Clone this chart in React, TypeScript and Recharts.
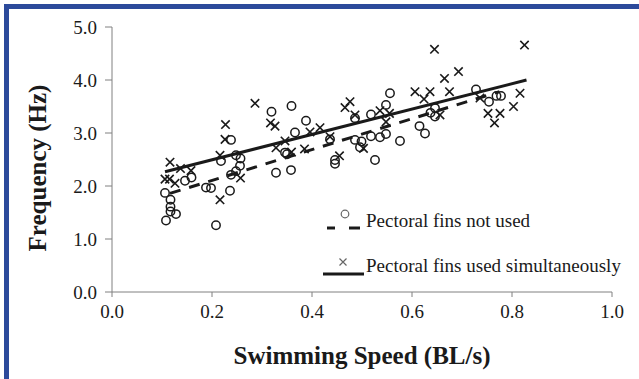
import React from "react";
import { ComposedChart, Scatter, Line, XAxis, YAxis, Label } from "recharts";

type Pt = { x: number; y: number };

// Pectoral fins not used (circles)
const notUsed: Pt[] = [
  { x: 0.108, y: 1.35 }, { x: 0.106, y: 1.87 }, { x: 0.117, y: 1.74 }, { x: 0.117, y: 1.61 },
  { x: 0.117, y: 1.52 }, { x: 0.128, y: 1.47 }, { x: 0.146, y: 2.1 }, { x: 0.159, y: 2.16 },
  { x: 0.188, y: 1.97 }, { x: 0.198, y: 1.96 }, { x: 0.208, y: 1.26 }, { x: 0.218, y: 2.47 },
  { x: 0.236, y: 1.91 }, { x: 0.238, y: 2.21 }, { x: 0.238, y: 2.87 }, { x: 0.248, y: 2.28 },
  { x: 0.248, y: 2.58 }, { x: 0.256, y: 2.38 }, { x: 0.257, y: 2.52 }, { x: 0.319, y: 3.4 },
  { x: 0.328, y: 2.25 }, { x: 0.346, y: 2.63 }, { x: 0.35, y: 2.6 }, { x: 0.358, y: 2.3 },
  { x: 0.359, y: 3.51 }, { x: 0.366, y: 3.01 }, { x: 0.388, y: 3.23 }, { x: 0.436, y: 2.88 },
  { x: 0.446, y: 2.49 }, { x: 0.446, y: 2.42 }, { x: 0.486, y: 3.28 }, { x: 0.486, y: 2.87 },
  { x: 0.496, y: 2.73 }, { x: 0.499, y: 2.84 }, { x: 0.518, y: 3.35 }, { x: 0.518, y: 2.94 },
  { x: 0.526, y: 2.49 }, { x: 0.536, y: 2.92 }, { x: 0.548, y: 3.53 }, { x: 0.548, y: 2.98 },
  { x: 0.556, y: 3.75 }, { x: 0.576, y: 2.85 }, { x: 0.615, y: 3.13 }, { x: 0.626, y: 2.99 },
  { x: 0.637, y: 3.38 }, { x: 0.646, y: 3.47 }, { x: 0.646, y: 3.31 }, { x: 0.728, y: 3.82 },
  { x: 0.754, y: 3.59 }, { x: 0.769, y: 3.7 }, { x: 0.778, y: 3.7 },
];

// Pectoral fins used simultaneously (crosses)
const usedSim: Pt[] = [
  { x: 0.106, y: 2.13 }, { x: 0.115, y: 2.13 }, { x: 0.116, y: 2.45 }, { x: 0.126, y: 2.05 },
  { x: 0.137, y: 2.33 }, { x: 0.158, y: 2.29 }, { x: 0.216, y: 2.58 }, { x: 0.216, y: 1.74 },
  { x: 0.226, y: 2.88 }, { x: 0.227, y: 3.16 }, { x: 0.257, y: 2.15 }, { x: 0.286, y: 3.56 },
  { x: 0.317, y: 3.19 }, { x: 0.326, y: 3.13 }, { x: 0.328, y: 2.72 }, { x: 0.346, y: 2.85 },
  { x: 0.359, y: 2.64 }, { x: 0.385, y: 2.7 }, { x: 0.396, y: 3.02 }, { x: 0.416, y: 3.1 },
  { x: 0.436, y: 2.93 }, { x: 0.455, y: 2.57 }, { x: 0.466, y: 3.48 }, { x: 0.476, y: 3.59 },
  { x: 0.486, y: 3.34 }, { x: 0.503, y: 2.71 }, { x: 0.536, y: 3.42 }, { x: 0.548, y: 3.21 },
  { x: 0.555, y: 3.37 }, { x: 0.606, y: 3.78 }, { x: 0.624, y: 3.64 }, { x: 0.636, y: 3.78 },
  { x: 0.645, y: 4.58 }, { x: 0.656, y: 3.34 }, { x: 0.665, y: 4.03 }, { x: 0.675, y: 3.78 },
  { x: 0.693, y: 4.16 }, { x: 0.736, y: 3.66 }, { x: 0.752, y: 3.37 }, { x: 0.765, y: 3.19 },
  { x: 0.776, y: 3.37 }, { x: 0.803, y: 3.5 }, { x: 0.816, y: 3.75 }, { x: 0.825, y: 4.66 },
];

// trend lines (end points)
const trendNotUsed: Pt[] = [{ x: 0.116, y: 1.86 }, { x: 0.775, y: 3.78 }];
const trendUsed: Pt[] = [{ x: 0.106, y: 2.27 }, { x: 0.829, y: 4.0 }];

const xTicks = [0, 0.2, 0.4, 0.6, 0.8, 1.0];
const yTicks = [0, 1, 2, 3, 4, 5];

const FONT = "'Liberation Serif', 'Times New Roman', Times, serif";
const INK = "#1a1a1a";
const serif = { fontFamily: FONT };

const CircleMark = (props: any) => (
  <circle cx={props.cx} cy={props.cy} r={4.2} fill="none" stroke={INK} strokeWidth={1.5} />
);

const CrossMark = (props: any) => {
  const { cx, cy } = props;
  const s = 4.2;
  return (
    <path
      d={`M${cx - s},${cy - s}L${cx + s},${cy + s}M${cx - s},${cy + s}L${cx + s},${cy - s}`}
      stroke={INK}
      strokeWidth={1.6}
      fill="none"
    />
  );
};

const XTick = (props: any) => {
  const { x, y, payload } = props;
  return (
    <text x={x} y={y + 15} textAnchor="middle" fontSize={19} fill={INK} style={serif}>
      {Number(payload.value).toFixed(1)}
    </text>
  );
};

const YTick = (props: any) => {
  const { x, y, payload } = props;
  return (
    <text x={x} y={y + 6.5} textAnchor="end" fontSize={19} fill={INK} style={serif}>
      {Number(payload.value).toFixed(1)}
    </text>
  );
};

const XTitle = (props: any) => {
  const { x, width } = props.viewBox;
  return (
    <text x={x + width / 2} y={364} textAnchor="middle" fontSize={25} fontWeight="bold" fill={INK} style={serif}>
      Swimming Speed (BL/s)
    </text>
  );
};

const YTitle = () => (
  <text
    x={0}
    y={0}
    transform="translate(46,168) rotate(-90)"
    textAnchor="middle"
    fontSize={25}
    fontWeight="bold"
    fill={INK}
    style={serif}
  >
    Frequency (Hz)
  </text>
);

function LegendBox() {
  return (
    <svg width={320} height={90} style={{ position: "absolute", left: 318, top: 200 }}>
      <circle cx={27} cy={14} r={3.8} fill="none" stroke="#666" strokeWidth={1.2} />
      <line x1={9} y1={28} x2={17} y2={28} stroke={INK} strokeWidth={3} />
      <line x1={31} y1={28} x2={42} y2={28} stroke={INK} strokeWidth={3} />
      <text x={48} y={27} fontSize={19} fill={INK} style={serif}>
        Pectoral fins not used
      </text>
      <path d="M21.5,58.5L28.5,65.5M21.5,65.5L28.5,58.5" stroke="#666" strokeWidth={1.2} />
      <line x1={5} y1={74} x2={46} y2={74} stroke={INK} strokeWidth={3} />
      <text x={48} y={72} fontSize={19} fill={INK} style={serif}>
        Pectoral fins used simultaneously
      </text>
    </svg>
  );
}

export default function App() {
  return (
    <div
      style={{
        position: "absolute",
        left: 0,
        top: 0,
        width: 639,
        height: 379,
        background: "#fff",
        overflow: "hidden",
      }}
    >
      <div
        style={{
          position: "absolute",
          left: 4,
          top: 4,
          width: 700,
          height: 400,
          borderTop: "5px solid #2c4a9b",
          borderLeft: "5px solid #2c4a9b",
        }}
      />
      <ComposedChart width={639} height={379} margin={{ top: 27, right: 27, bottom: 0, left: 0 }}>
        <XAxis
          dataKey="x"
          type="number"
          domain={[0, 1]}
          ticks={xTicks}
          height={87}
          stroke="#808080"
          tickSize={5}
          tickMargin={6}
          tick={<XTick />}
          allowDuplicatedCategory={false}
        >
          <Label content={<XTitle />} />
        </XAxis>
        <YAxis
          type="number"
          domain={[0, 5]}
          ticks={yTicks}
          width={112}
          stroke="#808080"
          tickSize={7}
          tickMargin={8}
          tick={<YTick />}
        >
          <Label content={<YTitle />} />
        </YAxis>
        <Scatter data={notUsed} dataKey="y" shape={CircleMark} isAnimationActive={false} />
        <Scatter data={usedSim} dataKey="y" shape={CrossMark} isAnimationActive={false} />
        <Line
          data={trendNotUsed}
          dataKey="y"
          stroke={INK}
          strokeWidth={3}
          strokeDasharray="11 9"
          dot={false}
          activeDot={false}
          isAnimationActive={false}
        />
        <Line
          data={trendUsed}
          dataKey="y"
          stroke={INK}
          strokeWidth={3}
          dot={false}
          activeDot={false}
          isAnimationActive={false}
        />
      </ComposedChart>
      <LegendBox />
    </div>
  );
}
